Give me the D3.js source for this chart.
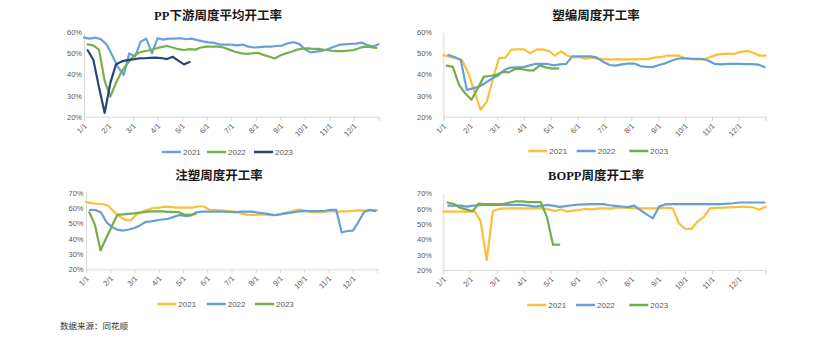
<!DOCTYPE html>
<html><head><meta charset="utf-8">
<script src="https://cdn.jsdelivr.net/npm/d3@7"></script>
<style>body{margin:0;background:#fff}svg{display:block}</style>
</head><body>
<svg id="c" width="828" height="356"></svg>
<script>
// ---------- DATA ----------
const monthLabels = ["1/1","2/1","3/1","4/1","5/1","6/1","7/1","8/1","9/1","10/1","11/1","12/1"];
const years = ["2021","2022","2023"];
// week offset of first observation for each year (2021, 2022, 2023)
const ppOffset   = [0, 0.65, 0.65];
const sbOffset   = [0, 0.8, 0.55];
const zsOffset   = [0, 0.7, 0.6];
const boppOffset = [0, 0.8, 0.7];

// PP下游周度平均开工率 (%)
const pp2021 = [57.5,57.0,57.5,56.7,54.2,49.0,43.5,39.8,50.0,48.5,55.5,57.0,50.0,57.2,56.5,57.0,57.0,57.2,56.7,57.0,56.3,55.7,55.2,55.0,54.2,54.2,54.2,53.8,54.2,53.2,52.8,53.0,53.2,53.2,53.5,53.7,54.8,55.3,54.5,52.0,50.5,50.8,51.2,52.0,53.0,54.0,54.3,54.5,54.6,55.1,54.0,53.3,54.3];
const pp2022 = [54.3,53.8,51.8,37.0,29.5,36.0,41.5,45.0,48.5,50.3,51.0,51.5,52.3,53.0,53.5,52.8,52.0,51.6,52.0,51.8,52.8,53.2,53.2,53.2,52.8,51.8,50.8,50.1,49.8,50.0,50.3,49.3,48.5,47.6,49.0,50.0,50.8,51.8,52.3,52.4,52.1,52.1,51.6,51.3,51.1,51.1,51.3,51.6,52.6,53.2,53.0,52.6];
const pp2023 = [51.5,47.0,34.0,21.8,36.0,44.8,46.2,46.8,47.2,47.6,47.7,47.9,48.0,47.8,47.3,48.4,46.6,44.8,45.9];

// 塑编周度开工率 (%)
const sb2021 = [49.2,48.3,47.8,46.9,41.0,32.0,23.3,27.0,38.0,47.8,48.0,51.8,51.9,51.9,50.1,51.8,51.9,51.2,48.9,51.0,48.9,48.2,48.2,47.5,48.0,47.4,47.2,47.2,47.2,47.2,47.2,47.2,47.3,47.3,48.0,48.2,48.9,48.9,48.9,47.7,47.3,47.2,47.2,48.2,49.3,49.8,49.8,49.8,50.7,51.2,50.3,48.9,48.9];
const sb2022 = [49.3,48.3,47.0,32.7,33.4,34.3,36.0,38.0,39.5,42.0,43.3,43.4,43.4,44.2,45.0,45.0,45.0,44.3,44.8,45.0,48.6,48.6,48.6,48.6,48.0,46.0,44.5,44.2,44.8,45.2,45.2,44.0,43.6,43.5,44.5,45.3,46.5,47.5,47.7,47.5,47.4,47.4,46.5,45.0,44.8,45.0,45.0,45.0,44.9,44.9,44.7,43.5];
const sb2023 = [44.2,43.6,35.0,31.0,28.0,33.5,39.0,39.3,39.8,41.2,41.0,42.6,42.6,42.0,42.0,44.3,43.4,42.8,42.9];

// 注塑周度开工率 (%)
const zs2021 = [64.0,63.2,62.8,62.5,61.5,57.5,54.5,52.3,52.0,55.8,57.5,58.8,60.0,60.2,60.9,60.7,60.3,60.2,60.2,60.3,61.0,61.0,59.0,58.8,58.4,58.2,57.9,57.5,56.2,55.5,55.5,55.6,55.6,55.4,55.5,56.3,57.2,58.0,59.0,58.5,57.5,57.2,57.3,57.8,58.0,57.7,57.8,57.9,58.3,58.4,58.3,58.6,58.6];
const zs2022 = [58.8,58.7,57.0,50.5,47.5,45.7,45.3,46.0,47.0,48.8,51.0,51.3,52.0,52.5,53.0,54.2,55.4,54.9,55.0,57.2,57.6,57.6,57.6,57.6,57.6,57.4,57.2,57.6,57.6,57.6,57.0,56.6,56.0,55.4,55.8,56.5,57.0,57.6,58.0,58.0,58.0,58.0,58.2,58.8,58.8,44.0,45.0,45.2,51.0,57.5,58.8,58.0];
const zs2023 = [57.2,49.0,32.3,40.3,48.0,55.6,55.8,56.2,56.5,57.0,57.5,57.8,57.9,57.8,57.5,57.5,57.3,55.6,55.5,56.2];

// BOPP周度开工率 (%)
const bopp2021 = [58,58,58,58,58,58.5,52,26.5,58.5,59.8,60.2,60.2,60.2,60.2,60.2,60.2,60.2,59.5,58.5,59.6,58,58.7,59.1,59.8,59.5,60.2,60.2,60,60.7,60.7,60.4,60.2,60.2,60.2,60.2,60.2,60.6,60.2,50.5,46.8,46.8,51.5,54.5,60.2,60.5,60.6,60.8,61,61.2,61.2,60.8,59.3,61.3];
const bopp2022 = [62,62,62,61.3,62,62.2,62.4,62.4,62.4,62.4,62.4,62.4,62.4,62,61.3,61.8,62.4,61.8,61.2,61.6,62.2,62.6,62.8,63,63,63,62.2,61.8,61.4,61,62,59,56.3,53.7,61.3,62.8,63,63,63,63,63,63,63,63,63,63.3,63.5,64,64,64,64,64];
const bopp2023 = [64,63,60.5,59.5,58.2,63.3,63,63,63,63.2,64,64.8,64.7,64.3,64.2,64.2,54.8,36.5,36.5];

const ticksA = [20,30,40,50,60];
const ticksB = [20,30,40,50,60,70];

// ---------- LAYOUT ----------
const palA = ["#6a9fdc","#77b04a","#2b4676"];
const palB = ["#fbbf3a","#659ed8","#72ad4a"];
const panels = [
  {title:"PP下游周度平均开工率", tx:218, ty:15, x0:84, x1:378.5, yT:32.3, yB:116.7, dom:[20,60], ticks:ticksA, lblX:82,
   data:[pp2021,pp2022,pp2023], off:ppOffset, pal:palA, ly:152, lx:[162,207,254]},
  {title:"塑编周度开工率", tx:596, ty:15, x0:443.3, x1:765.7, yT:32.3, yB:116.7, dom:[20,60], ticks:ticksA, lblX:432,
   data:[sb2021,sb2022,sb2023], off:sbOffset, pal:palB, ly:151, lx:[528.3,576.7,629.3]},
  {title:"注塑周度开工率", tx:219, ty:175.7, x0:86, x1:377, yT:192.7, yB:269.3, dom:[20,70], ticks:ticksB, lblX:83.5,
   data:[zs2021,zs2022,zs2023], off:zsOffset, pal:palB, ly:304, lx:[157.3,206.7,255]},
  {title:"BOPP周度开工率", tx:596, ty:175.7, x0:443.3, x1:765.7, yT:193.3, yB:270, dom:[20,70], ticks:ticksB, lblX:432,
   data:[bopp2021,bopp2022,bopp2023], off:boppOffset, pal:palB, ly:305, lx:[527.3,576,629.3]}
];

const svg = d3.select("#c");
const axisCol = "#d9d9d9", txtCol = "#595959";
const sans = "'Liberation Sans', Arial, 'Noto Sans CJK SC', sans-serif";

panels.forEach(p => {
  const g = svg.append("g");
  const x = d3.scaleLinear().domain([0,12]).range([p.x0,p.x1]);
  const y = d3.scaleLinear().domain(p.dom).range([p.yB,p.yT]);

  // title
  g.append("text").attr("x",p.tx).attr("y",p.ty+4.5).attr("text-anchor","middle")
    .attr("font-family","'Liberation Serif','Times New Roman','Noto Sans CJK SC',serif")
    .attr("font-weight","bold").attr("font-size","12.5px").attr("fill","#1a1a1a").text(p.title);

  // y axis
  const ya = g.append("g").attr("transform",`translate(${p.x0},0)`)
    .call(d3.axisLeft(y).tickValues(p.ticks).tickFormat(d=>d+"%").tickSize(0).tickPadding(p.x0-p.lblX));
  ya.select(".domain").attr("stroke",axisCol);
  ya.selectAll("text").attr("font-family",sans).attr("font-size","7.5px").attr("fill",txtCol);

  // x axis
  const xa = g.append("g").attr("transform",`translate(0,${p.yB})`)
    .call(d3.axisBottom(x).tickValues(d3.range(0,13)).tickFormat(i => i<12 ? monthLabels[i] : "").tickSize(4));
  xa.select(".domain").attr("stroke",axisCol);
  xa.selectAll(".tick line").attr("stroke",axisCol);
  xa.selectAll("text").attr("font-family",sans).attr("font-size","7.5px").attr("fill",txtCol)
    .attr("text-anchor","end").attr("x",0).attr("y",0).attr("dy","0.35em")
    .attr("transform","translate(1,8) rotate(-45)");

  // lines
  const line = d3.line().x(d=>x(d.w*12/52)).y(d=>y(d.v));
  p.data.forEach((vals,k) => {
    const pts = vals.map((v,i)=>({w:p.off[k]+i, v}));
    g.append("path").datum(pts).attr("d",line).attr("fill","none")
      .attr("stroke",p.pal[k]).attr("stroke-width",2.2).attr("stroke-linejoin","round").attr("stroke-linecap","round");
  });

  // legend
  years.forEach((yr,k) => {
    g.append("line").attr("x1",p.lx[k]).attr("x2",p.lx[k]+19).attr("y1",p.ly).attr("y2",p.ly)
      .attr("stroke",p.pal[k]).attr("stroke-width",2.5);
    g.append("text").attr("x",p.lx[k]+21).attr("y",p.ly+3).attr("font-family",sans)
      .attr("font-size","8px").attr("fill",txtCol).text(yr);
  });
});

svg.append("text").attr("x",60).attr("y",329).attr("font-family","'Noto Sans CJK SC',sans-serif")
  .attr("font-size","8.5px").attr("fill","#333").text("数据来源：同花顺");
</script>
</body></html>
